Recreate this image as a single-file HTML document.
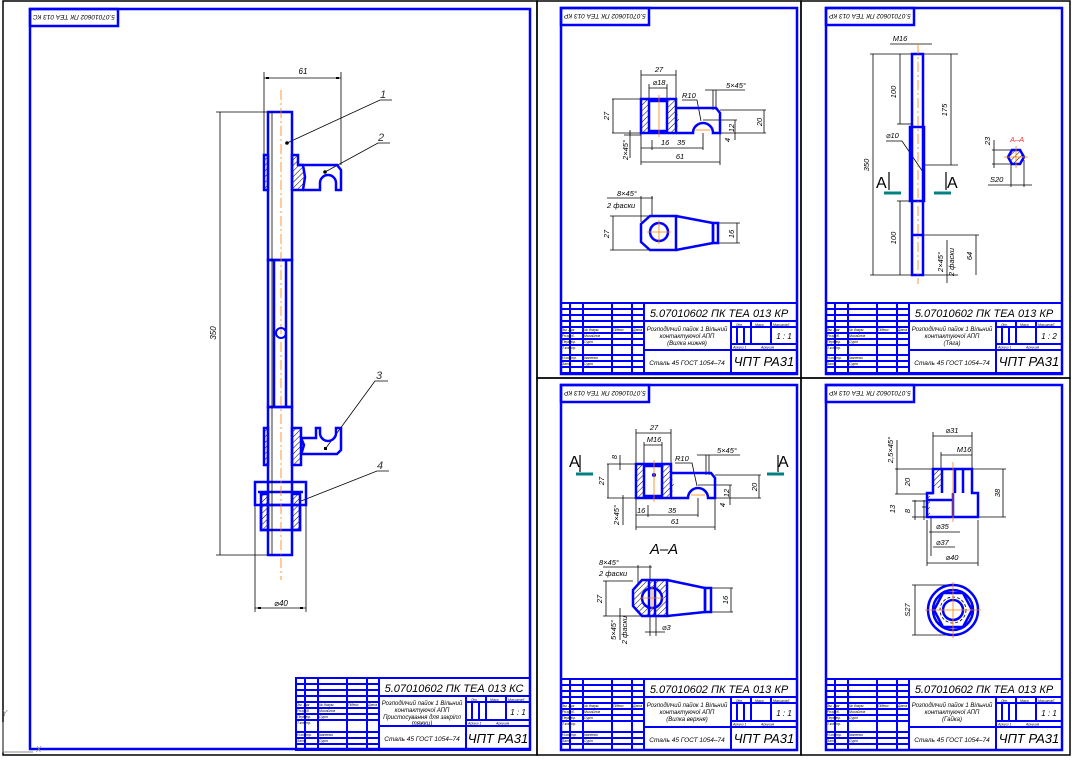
<!DOCTYPE html>
<html><head><meta charset="utf-8"><style>
html,body{margin:0;padding:0;background:#fff;}
svg{display:block;}
text{font-family:"Liberation Sans","DejaVu Sans",sans-serif;font-style:italic;}
</style></head><body>
<svg width="1072" height="760" viewBox="0 0 1072 760" xmlns="http://www.w3.org/2000/svg">
<defs>
<pattern id="h" width="4" height="4" patternUnits="userSpaceOnUse" patternTransform="rotate(45)">
<rect width="4" height="4" fill="#fff"/><line x1="0" y1="0" x2="0" y2="4" stroke="#000" stroke-width="1"/></pattern>
</defs>
<rect width="1072" height="760" fill="#fff"/>
<g fill="none" stroke="#000" stroke-width="1.5">
<rect x="3" y="1" width="534" height="754"/>
<rect x="537" y="1" width="264" height="377"/>
<rect x="801" y="1" width="269" height="377"/>
<rect x="537" y="378" width="264" height="377"/>
<rect x="801" y="378" width="269" height="377"/>
</g>
<g fill="none" stroke="#0000ff" stroke-width="2.5">
<rect x="30" y="9" width="500" height="740"/>
<rect x="561" y="8" width="236" height="366"/>
<rect x="826" y="8" width="236" height="366"/>
<rect x="561" y="385" width="236" height="365"/>
<rect x="826" y="385" width="236" height="365"/>
<rect x="30" y="9" width="88" height="17"/>
<rect x="561" y="8" width="88" height="17"/>
<rect x="826" y="8" width="88" height="17"/>
<rect x="561" y="385" width="88" height="17"/>
<rect x="826" y="385" width="88" height="17"/>
</g>
<g font-size="6.5" fill="#000">
<text transform="translate(74,17.5) rotate(180)" text-anchor="middle" dy="2.5">5.07010602 ПК ТЕА 013 КС</text>
<text transform="translate(605,16.5) rotate(180)" text-anchor="middle" dy="2.5">5.07010602 ПК ТЕА 013 КР</text>
<text transform="translate(870,16.5) rotate(180)" text-anchor="middle" dy="2.5">5.07010602 ПК ТЕА 013 КР</text>
<text transform="translate(605,393.5) rotate(180)" text-anchor="middle" dy="2.5">5.07010602 ПК ТЕА 013 КР</text>
<text transform="translate(870,393.5) rotate(180)" text-anchor="middle" dy="2.5">5.07010602 ПК ТЕА 013 КР</text>
</g>

<g transform="translate(296,678)">
<g stroke="#0000ff" stroke-width="2" fill="none">
<rect x="0" y="0" width="234" height="72"/>
<line x1="9" y1="0" x2="9" y2="72"/><line x1="22" y1="0" x2="22" y2="72"/><line x1="51" y1="0" x2="51" y2="72"/><line x1="71" y1="0" x2="71" y2="72"/><line x1="83" y1="0" x2="83" y2="72"/>
<line x1="0" y1="6" x2="83" y2="6"/><line x1="0" y1="12" x2="83" y2="12"/><line x1="0" y1="18" x2="83" y2="18"/><line x1="0" y1="24" x2="83" y2="24"/><line x1="0" y1="30" x2="83" y2="30"/><line x1="0" y1="36" x2="83" y2="36"/><line x1="0" y1="42" x2="83" y2="42"/><line x1="0" y1="54" x2="83" y2="54"/><line x1="0" y1="60" x2="83" y2="60"/><line x1="0" y1="66" x2="83" y2="66"/>
<line x1="83" y1="18" x2="234" y2="18"/><line x1="83" y1="48" x2="234" y2="48"/>
<line x1="170" y1="18" x2="170" y2="72"/><line x1="170" y1="24" x2="234" y2="24"/><line x1="170" y1="42" x2="234" y2="42"/>
<line x1="190" y1="18" x2="190" y2="42"/><line x1="210" y1="18" x2="210" y2="42"/>
<line x1="176" y1="24" x2="176" y2="42"/><line x1="183" y1="24" x2="183" y2="42"/>
</g>
<g fill="#000">
<text x="158" y="14" font-size="11" text-anchor="middle">5.07010602 ПК ТЕА 013 КС</text>
<text x="126" y="27" font-size="6" text-anchor="middle">Розподілчий пайок 1 Вільний</text>
<text x="126" y="34" font-size="6" text-anchor="middle">контактуючої АПП</text>
<text x="126" y="41" font-size="6" text-anchor="middle">Пристосування для закріпл</text>
<text x="126" y="47" font-size="6" text-anchor="middle">тяжки)</text>
<text x="126" y="63" font-size="6.5" text-anchor="middle">Сталь 45 ГОСТ 1054–74</text>
<text x="202" y="65" font-size="13" text-anchor="middle">ЧПТ РА31</text>
<text x="222" y="37" font-size="8" text-anchor="middle">1 : 1</text>
<g font-size="3.5"><text x="1" y="28">Зм. Арк</text><text x="23" y="28">№ докум.</text><text x="52" y="28">Підпис</text><text x="72" y="28">Дата</text>
<text x="1" y="34">Розроб.</text><text x="23" y="34">Михайлов</text><text x="1" y="40">Перевір.</text><text x="23" y="40">Сурін</text><text x="1" y="46">Т.контр.</text>
<text x="1" y="58">Н.контр.</text><text x="23" y="58">Іваненко</text><text x="1" y="64">Затв.</text><text x="23" y="64">Сурін</text>
<text x="175" y="23">Літ.</text><text x="194" y="23">Маса</text><text x="212" y="23">Масштаб</text><text x="172" y="46.5">Аркуш 1</text><text x="200" y="46.5">Аркушів</text></g>
</g>
</g>

<g transform="translate(561,303)">
<g stroke="#0000ff" stroke-width="2" fill="none">
<rect x="0" y="0" width="236" height="70"/>
<line x1="9" y1="0" x2="9" y2="70"/><line x1="22" y1="0" x2="22" y2="70"/><line x1="51" y1="0" x2="51" y2="70"/><line x1="71" y1="0" x2="71" y2="70"/><line x1="83" y1="0" x2="83" y2="70"/>
<line x1="0" y1="6" x2="83" y2="6"/><line x1="0" y1="12" x2="83" y2="12"/><line x1="0" y1="18" x2="83" y2="18"/><line x1="0" y1="24" x2="83" y2="24"/><line x1="0" y1="30" x2="83" y2="30"/><line x1="0" y1="36" x2="83" y2="36"/><line x1="0" y1="42" x2="83" y2="42"/><line x1="0" y1="52" x2="83" y2="52"/><line x1="0" y1="58" x2="83" y2="58"/><line x1="0" y1="64" x2="83" y2="64"/>
<line x1="83" y1="18" x2="236" y2="18"/><line x1="83" y1="47" x2="236" y2="47"/>
<line x1="170" y1="18" x2="170" y2="70"/><line x1="170" y1="24" x2="236" y2="24"/><line x1="170" y1="41" x2="236" y2="41"/>
<line x1="190" y1="18" x2="190" y2="41"/><line x1="210" y1="18" x2="210" y2="41"/>
<line x1="176" y1="24" x2="176" y2="41"/><line x1="183" y1="24" x2="183" y2="41"/>
</g>
<g fill="#000">
<text x="158" y="14" font-size="11" text-anchor="middle">5.07010602 ПК ТЕА 013 КР</text>
<text x="126" y="28" font-size="6" text-anchor="middle">Розподілчий пайок 1 Вільний</text>
<text x="126" y="35" font-size="6" text-anchor="middle">контактуючої АПП</text>
<text x="126" y="42" font-size="6" text-anchor="middle">(Вилка нижня)</text>
<text x="126" y="62" font-size="6.5" text-anchor="middle">Сталь 45 ГОСТ 1054–74</text>
<text x="203" y="63" font-size="13" text-anchor="middle">ЧПТ РА31</text>
<text x="223" y="36" font-size="8" text-anchor="middle">1 : 1</text>
<g font-size="3.5"><text x="1" y="28">Зм. Арк</text><text x="23" y="28">№ докум.</text><text x="52" y="28">Підпис</text><text x="72" y="28">Дата</text>
<text x="1" y="34">Розроб.</text><text x="23" y="34">Михайлов</text><text x="1" y="40">Перевір.</text><text x="23" y="40">Сурін</text><text x="1" y="46">Т.контр.</text>
<text x="1" y="56">Н.контр.</text><text x="23" y="56">Іваненко</text><text x="1" y="62">Затв.</text><text x="23" y="62">Сурін</text>
<text x="175" y="23">Літ.</text><text x="194" y="23">Маса</text><text x="212" y="23">Масштаб</text><text x="172" y="45.5">Аркуш 1</text><text x="200" y="45.5">Аркушів</text></g>
</g>
</g>

<g transform="translate(826,303)">
<g stroke="#0000ff" stroke-width="2" fill="none">
<rect x="0" y="0" width="236" height="70"/>
<line x1="9" y1="0" x2="9" y2="70"/><line x1="22" y1="0" x2="22" y2="70"/><line x1="51" y1="0" x2="51" y2="70"/><line x1="71" y1="0" x2="71" y2="70"/><line x1="83" y1="0" x2="83" y2="70"/>
<line x1="0" y1="6" x2="83" y2="6"/><line x1="0" y1="12" x2="83" y2="12"/><line x1="0" y1="18" x2="83" y2="18"/><line x1="0" y1="24" x2="83" y2="24"/><line x1="0" y1="30" x2="83" y2="30"/><line x1="0" y1="36" x2="83" y2="36"/><line x1="0" y1="42" x2="83" y2="42"/><line x1="0" y1="52" x2="83" y2="52"/><line x1="0" y1="58" x2="83" y2="58"/><line x1="0" y1="64" x2="83" y2="64"/>
<line x1="83" y1="18" x2="236" y2="18"/><line x1="83" y1="47" x2="236" y2="47"/>
<line x1="170" y1="18" x2="170" y2="70"/><line x1="170" y1="24" x2="236" y2="24"/><line x1="170" y1="41" x2="236" y2="41"/>
<line x1="190" y1="18" x2="190" y2="41"/><line x1="210" y1="18" x2="210" y2="41"/>
<line x1="176" y1="24" x2="176" y2="41"/><line x1="183" y1="24" x2="183" y2="41"/>
</g>
<g fill="#000">
<text x="158" y="14" font-size="11" text-anchor="middle">5.07010602 ПК ТЕА 013 КР</text>
<text x="126" y="28" font-size="6" text-anchor="middle">Розподілчий пайок 1 Вільний</text>
<text x="126" y="35" font-size="6" text-anchor="middle">контактуючої АПП</text>
<text x="126" y="42" font-size="6" text-anchor="middle">(Тяга)</text>
<text x="126" y="62" font-size="6.5" text-anchor="middle">Сталь 45 ГОСТ 1054–74</text>
<text x="203" y="63" font-size="13" text-anchor="middle">ЧПТ РА31</text>
<text x="223" y="36" font-size="8" text-anchor="middle">1 : 2</text>
<g font-size="3.5"><text x="1" y="28">Зм. Арк</text><text x="23" y="28">№ докум.</text><text x="52" y="28">Підпис</text><text x="72" y="28">Дата</text>
<text x="1" y="34">Розроб.</text><text x="23" y="34">Михайлов</text><text x="1" y="40">Перевір.</text><text x="23" y="40">Сурін</text><text x="1" y="46">Т.контр.</text>
<text x="1" y="56">Н.контр.</text><text x="23" y="56">Іваненко</text><text x="1" y="62">Затв.</text><text x="23" y="62">Сурін</text>
<text x="175" y="23">Літ.</text><text x="194" y="23">Маса</text><text x="212" y="23">Масштаб</text><text x="172" y="45.5">Аркуш 1</text><text x="200" y="45.5">Аркушів</text></g>
</g>
</g>

<g transform="translate(561,679)">
<g stroke="#0000ff" stroke-width="2" fill="none">
<rect x="0" y="0" width="236" height="71"/>
<line x1="9" y1="0" x2="9" y2="71"/><line x1="22" y1="0" x2="22" y2="71"/><line x1="51" y1="0" x2="51" y2="71"/><line x1="71" y1="0" x2="71" y2="71"/><line x1="83" y1="0" x2="83" y2="71"/>
<line x1="0" y1="6" x2="83" y2="6"/><line x1="0" y1="12" x2="83" y2="12"/><line x1="0" y1="18" x2="83" y2="18"/><line x1="0" y1="24" x2="83" y2="24"/><line x1="0" y1="30" x2="83" y2="30"/><line x1="0" y1="36" x2="83" y2="36"/><line x1="0" y1="42" x2="83" y2="42"/><line x1="0" y1="53" x2="83" y2="53"/><line x1="0" y1="59" x2="83" y2="59"/><line x1="0" y1="65" x2="83" y2="65"/>
<line x1="83" y1="18" x2="236" y2="18"/><line x1="83" y1="48" x2="236" y2="48"/>
<line x1="170" y1="18" x2="170" y2="71"/><line x1="170" y1="24" x2="236" y2="24"/><line x1="170" y1="42" x2="236" y2="42"/>
<line x1="190" y1="18" x2="190" y2="42"/><line x1="210" y1="18" x2="210" y2="42"/>
<line x1="176" y1="24" x2="176" y2="42"/><line x1="183" y1="24" x2="183" y2="42"/>
</g>
<g fill="#000">
<text x="158" y="14" font-size="11" text-anchor="middle">5.07010602 ПК ТЕА 013 КР</text>
<text x="126" y="28" font-size="6" text-anchor="middle">Розподілчий пайок 1 Вільний</text>
<text x="126" y="35" font-size="6" text-anchor="middle">контактуючої АПП</text>
<text x="126" y="42" font-size="6" text-anchor="middle">(Вилка верхня)</text>
<text x="126" y="63" font-size="6.5" text-anchor="middle">Сталь 45 ГОСТ 1054–74</text>
<text x="203" y="64" font-size="13" text-anchor="middle">ЧПТ РА31</text>
<text x="223" y="37" font-size="8" text-anchor="middle">1 : 1</text>
<g font-size="3.5"><text x="1" y="28">Зм. Арк</text><text x="23" y="28">№ докум.</text><text x="52" y="28">Підпис</text><text x="72" y="28">Дата</text>
<text x="1" y="34">Розроб.</text><text x="23" y="34">Михайлов</text><text x="1" y="40">Перевір.</text><text x="23" y="40">Сурін</text><text x="1" y="46">Т.контр.</text>
<text x="1" y="57">Н.контр.</text><text x="23" y="57">Іваненко</text><text x="1" y="63">Затв.</text><text x="23" y="63">Сурін</text>
<text x="175" y="23">Літ.</text><text x="194" y="23">Маса</text><text x="212" y="23">Масштаб</text><text x="172" y="46.5">Аркуш 1</text><text x="200" y="46.5">Аркушів</text></g>
</g>
</g>

<g transform="translate(826,679)">
<g stroke="#0000ff" stroke-width="2" fill="none">
<rect x="0" y="0" width="236" height="71"/>
<line x1="9" y1="0" x2="9" y2="71"/><line x1="22" y1="0" x2="22" y2="71"/><line x1="51" y1="0" x2="51" y2="71"/><line x1="71" y1="0" x2="71" y2="71"/><line x1="83" y1="0" x2="83" y2="71"/>
<line x1="0" y1="6" x2="83" y2="6"/><line x1="0" y1="12" x2="83" y2="12"/><line x1="0" y1="18" x2="83" y2="18"/><line x1="0" y1="24" x2="83" y2="24"/><line x1="0" y1="30" x2="83" y2="30"/><line x1="0" y1="36" x2="83" y2="36"/><line x1="0" y1="42" x2="83" y2="42"/><line x1="0" y1="53" x2="83" y2="53"/><line x1="0" y1="59" x2="83" y2="59"/><line x1="0" y1="65" x2="83" y2="65"/>
<line x1="83" y1="18" x2="236" y2="18"/><line x1="83" y1="48" x2="236" y2="48"/>
<line x1="170" y1="18" x2="170" y2="71"/><line x1="170" y1="24" x2="236" y2="24"/><line x1="170" y1="42" x2="236" y2="42"/>
<line x1="190" y1="18" x2="190" y2="42"/><line x1="210" y1="18" x2="210" y2="42"/>
<line x1="176" y1="24" x2="176" y2="42"/><line x1="183" y1="24" x2="183" y2="42"/>
</g>
<g fill="#000">
<text x="158" y="14" font-size="11" text-anchor="middle">5.07010602 ПК ТЕА 013 КР</text>
<text x="126" y="28" font-size="6" text-anchor="middle">Розподілчий пайок 1 Вільний</text>
<text x="126" y="35" font-size="6" text-anchor="middle">контактуючої АПП</text>
<text x="126" y="42" font-size="6" text-anchor="middle">(Гайка)</text>
<text x="126" y="63" font-size="6.5" text-anchor="middle">Сталь 45 ГОСТ 1054–74</text>
<text x="203" y="64" font-size="13" text-anchor="middle">ЧПТ РА31</text>
<text x="223" y="37" font-size="8" text-anchor="middle">1 : 1</text>
<g font-size="3.5"><text x="1" y="28">Зм. Арк</text><text x="23" y="28">№ докум.</text><text x="52" y="28">Підпис</text><text x="72" y="28">Дата</text>
<text x="1" y="34">Розроб.</text><text x="23" y="34">Михайлов</text><text x="1" y="40">Перевір.</text><text x="23" y="40">Сурін</text><text x="1" y="46">Т.контр.</text>
<text x="1" y="57">Н.контр.</text><text x="23" y="57">Іваненко</text><text x="1" y="63">Затв.</text><text x="23" y="63">Сурін</text>
<text x="175" y="23">Літ.</text><text x="194" y="23">Маса</text><text x="212" y="23">Масштаб</text><text x="172" y="46.5">Аркуш 1</text><text x="200" y="46.5">Аркушів</text></g>
</g>
</g>

<!-- LEFT SHEET -->
<g>
<g stroke="#000" stroke-width="0.8" fill="none">
<line x1="264" y1="78" x2="341" y2="78"/><line x1="264" y1="72" x2="264" y2="155"/><line x1="341" y1="72" x2="341" y2="165"/>
<line x1="216" y1="112" x2="270" y2="112"/><line x1="216" y1="555" x2="272" y2="555"/><line x1="220" y1="112" x2="220" y2="555"/>
<line x1="255" y1="505" x2="255" y2="612"/><line x1="306" y1="505" x2="306" y2="612"/><line x1="255" y1="608" x2="306" y2="608"/>
<polyline points="287,143 380,100 392,100"/><polyline points="325,172 378,143 390,143"/><polyline points="326,448 375,381 388,381"/><polyline points="296,503 377,471 389,471"/>
</g>
<g fill="#000"><rect x="266" y="77" width="3" height="2"/><rect x="336" y="77" width="3" height="2"/><rect x="258" y="607" width="3" height="2"/><rect x="300" y="607" width="3" height="2"/>
<circle cx="287" cy="143" r="1.8"/><circle cx="325" cy="172" r="1.8"/><rect x="324" y="447" width="3" height="3"/><circle cx="296" cy="503" r="2"/></g>
<g font-size="8" fill="#000"><text x="303" y="74" text-anchor="middle">61</text><text x="281" y="606" text-anchor="middle">⌀40</text>
<text transform="translate(216,333) rotate(-90)" text-anchor="middle">350</text></g>
<g font-size="11" fill="#333"><text x="380" y="98">1</text><text x="378" y="141">2</text><text x="376" y="379">3</text><text x="377" y="469">4</text></g>
<g stroke="#0000ff" stroke-width="2.5" fill="url(#h)">
<rect x="264" y="155" width="4" height="35"/>
<path d="M292,155 H298 V165 H303 L305,177 L303,190 H292 Z"/>
<rect x="264" y="428" width="4" height="37"/>
<path d="M292,428 H301 V438 L304,445 L301,455 V465 H292 Z"/>
<path d="M261,494 H268 V530 H261 Z"/><path d="M292,494 H300 V530 H292 Z"/>
</g>
<g stroke="#0000ff" stroke-width="2.5" fill="none">
<path d="M298,165 H337 L341,170 V190 H336 V183 A8,8 0 0 0 320,183 V190 H303"/>
<path d="M301,438 V454 H337 L341,450 V428 H336 V433 A8,8 0 0 1 320,433 V428 H316 V438 Z"/>
<rect x="268" y="112" width="24" height="148"/>
<rect x="268" y="260" width="24" height="147"/>
<rect x="268" y="407" width="24" height="148"/>
<line x1="274" y1="260" x2="274" y2="407"/><line x1="286" y1="260" x2="286" y2="407"/>
<rect x="255" y="482" width="51" height="23"/>
<line x1="258" y1="492" x2="303" y2="492"/>
<rect x="261" y="505" width="39" height="25"/>
</g>
<line x1="272" y1="112" x2="272" y2="555" stroke="#000" stroke-width="0.8"/>
<line x1="281" y1="90" x2="281" y2="580" stroke="#ff8000" stroke-width="0.8" stroke-dasharray="10,3,2,3"/>
<circle cx="281" cy="333" r="5" fill="none" stroke="#0000ff" stroke-width="2"/>
</g>

<!-- TOP-MIDDLE -->
<g>
<g stroke="#000" stroke-width="0.8" fill="none">
<line x1="641" y1="75" x2="676" y2="75"/><line x1="641" y1="70" x2="641" y2="99"/><line x1="676" y1="70" x2="676" y2="99"/>
<line x1="649" y1="88" x2="667" y2="88"/><line x1="649" y1="84" x2="649" y2="100"/><line x1="667" y1="84" x2="667" y2="100"/>
<line x1="612" y1="99" x2="641" y2="99"/><line x1="612" y1="133" x2="641" y2="133"/><line x1="613" y1="99" x2="613" y2="133"/>
<line x1="641" y1="133" x2="641" y2="165"/><line x1="720" y1="133" x2="720" y2="165"/><line x1="641" y1="162" x2="720" y2="162"/>
<line x1="641" y1="148" x2="703" y2="148"/><line x1="652" y1="140" x2="652" y2="150"/><line x1="703" y1="133" x2="703" y2="150"/>
<line x1="720" y1="110" x2="766" y2="110"/><line x1="720" y1="133" x2="766" y2="133"/><line x1="764" y1="110" x2="764" y2="133"/>
<line x1="703" y1="120" x2="737" y2="120"/><line x1="735" y1="120" x2="735" y2="140"/>
<line x1="705" y1="90" x2="745" y2="90"/><line x1="713" y1="90" x2="713" y2="110"/><line x1="716" y1="90" x2="716" y2="110"/>
<polyline points="682,100 697,100 701,121"/>
<line x1="630" y1="130" x2="630" y2="158"/><line x1="624" y1="135" x2="641" y2="135"/>
</g>
<g font-size="7.5" fill="#000">
<text x="659" y="72" text-anchor="middle">27</text><text x="659" y="85" text-anchor="middle">⌀18</text>
<text transform="translate(609,116) rotate(-90)" text-anchor="middle">27</text>
<text x="661" y="145">16</text><text x="677" y="145">35</text><text x="680" y="159" text-anchor="middle">61</text>
<text transform="translate(762,122) rotate(-90)" text-anchor="middle">20</text><text transform="translate(734,128) rotate(-90)" text-anchor="middle">12</text>
<text transform="translate(730,140) rotate(-90)" text-anchor="middle">4</text>
<text x="726" y="88">5×45°</text><text x="682" y="98">R10</text>
<text transform="translate(628,150) rotate(-90)" text-anchor="middle">2×45°</text>
</g>
<path d="M641,99 H649 V133 H641 Z M667,99 H676 V108 L679,120 L676,133 H667 Z" fill="url(#h)" stroke="none"/>
<g stroke="#0000ff" stroke-width="2.5" fill="none">
<rect x="641" y="99" width="35" height="34"/>
<rect x="649" y="101" width="18" height="30"/>
<path d="M676,108 H716 L720,113 V133 H713 V133 A10,10 0 0 0 693,133 H676"/>
</g>
<line x1="659" y1="95" x2="659" y2="137" stroke="#ff8000" stroke-width="0.8"/>
<line x1="696" y1="130" x2="710" y2="130" stroke="#ff8000" stroke-width="0.8"/>
<g stroke="#000" stroke-width="0.8" fill="none">
<line x1="610" y1="216" x2="652" y2="216"/><line x1="610" y1="250" x2="652" y2="250"/><line x1="613" y1="216" x2="613" y2="250"/>
<line x1="607" y1="198" x2="653" y2="198"/><line x1="641" y1="196" x2="641" y2="222"/><line x1="652" y1="196" x2="652" y2="216"/>
<line x1="718" y1="223" x2="740" y2="223"/><line x1="718" y1="243" x2="740" y2="243"/><line x1="737" y1="223" x2="737" y2="243"/>
</g>
<g font-size="7.5" fill="#000"><text x="617" y="196">8×45°</text><text x="607" y="208">2 фаски</text>
<text transform="translate(609,234) rotate(-90)" text-anchor="middle">27</text><text transform="translate(734,234) rotate(-90)" text-anchor="middle">16</text></g>
<g stroke="#0000ff" stroke-width="2.5" fill="none">
<path d="M650,216 H676 V250 H650 L641,242 V224 Z"/>
<circle cx="659" cy="232" r="9"/>
<path d="M676,216 L713,223 V243 L676,250"/>
<rect x="713" y="223" width="5" height="20"/>
</g>
<g stroke="#ff8000" stroke-width="0.8"><line x1="647" y1="232" x2="671" y2="232"/><line x1="659" y1="220" x2="659" y2="244"/></g>
</g>

<!-- BOTTOM-MIDDLE -->
<g transform="translate(-5,365)">
<g stroke="#000" stroke-width="0.8" fill="none">
<line x1="641" y1="68" x2="676" y2="68"/><line x1="641" y1="64" x2="641" y2="99"/><line x1="676" y1="64" x2="676" y2="99"/>
<line x1="649" y1="80" x2="667" y2="80"/><line x1="649" y1="77" x2="649" y2="100"/><line x1="667" y1="77" x2="667" y2="100"/>
<line x1="612" y1="99" x2="641" y2="99"/><line x1="612" y1="133" x2="641" y2="133"/><line x1="613" y1="99" x2="613" y2="133"/>
<line x1="625" y1="90" x2="625" y2="105"/>
<line x1="641" y1="133" x2="641" y2="165"/><line x1="720" y1="133" x2="720" y2="165"/><line x1="641" y1="162" x2="720" y2="162"/>
<line x1="641" y1="150" x2="703" y2="150"/><line x1="653" y1="140" x2="653" y2="152"/><line x1="703" y1="133" x2="703" y2="152"/>
<line x1="720" y1="110" x2="766" y2="110"/><line x1="720" y1="133" x2="766" y2="133"/><line x1="764" y1="110" x2="764" y2="133"/>
<line x1="703" y1="120" x2="737" y2="120"/><line x1="735" y1="120" x2="735" y2="140"/>
<line x1="702" y1="90" x2="745" y2="90"/><line x1="711" y1="90" x2="711" y2="110"/><line x1="714" y1="90" x2="714" y2="110"/>
<polyline points="680,98 697,98 702,121"/>
<line x1="628" y1="130" x2="628" y2="160"/>
</g>
<g font-size="7.5" fill="#000">
<text x="659" y="65" text-anchor="middle">27</text><text x="659" y="77" text-anchor="middle">M16</text>
<text transform="translate(609,116) rotate(-90)" text-anchor="middle">27</text><text transform="translate(622,92) rotate(-90)" text-anchor="middle">8</text>
<text x="642" y="148">16</text><text x="673" y="148">35</text><text x="680" y="159" text-anchor="middle">61</text>
<text transform="translate(762,122) rotate(-90)" text-anchor="middle">20</text><text transform="translate(734,128) rotate(-90)" text-anchor="middle">12</text>
<text transform="translate(730,140) rotate(-90)" text-anchor="middle">4</text>
<text x="722" y="88">5×45°</text><text x="680" y="96">R10</text>
<text transform="translate(624,150) rotate(-90)" text-anchor="middle">2×45°</text>
</g>
<path d="M641,99 H649 V133 H641 Z M667,99 H676 V108 L679,120 L676,133 H667 Z" fill="url(#h)" stroke="none"/>
<g stroke="#0000ff" stroke-width="2.5" fill="none">
<rect x="641" y="99" width="35" height="34"/>
<rect x="649" y="101" width="18" height="30"/>
<path d="M676,108 H716 L720,113 V133 H713 V133 A10,10 0 0 0 693,133 H676"/>
</g>
<circle cx="659" cy="110" r="2" fill="#0000ff"/>
<line x1="659" y1="95" x2="659" y2="137" stroke="#ff8000" stroke-width="0.8"/>
<line x1="696" y1="130" x2="710" y2="130" stroke="#ff8000" stroke-width="0.8"/>
</g>
<g fill="#000" font-size="16">
<text x="569" y="467" style="font-style:normal">А</text><text x="778" y="467" style="font-style:normal">А</text>
<text x="876" y="188" style="font-style:normal">А</text><text x="947" y="188" style="font-style:normal">А</text>
</g>
<g stroke="#000" stroke-width="1.2"><line x1="580" y1="455" x2="580" y2="472"/><line x1="778" y1="455" x2="778" y2="472"/>
<line x1="889" y1="172" x2="889" y2="190"/><line x1="946" y1="172" x2="946" y2="190"/></g>
<g stroke="#008080" stroke-width="3"><line x1="576" y1="474" x2="593" y2="474"/><line x1="767" y1="474" x2="784" y2="474"/>
<line x1="884" y1="193" x2="901" y2="193"/><line x1="934" y1="193" x2="951" y2="193"/></g>
<text x="664" y="554" font-size="15" text-anchor="middle" fill="#000">А–А</text>
<g stroke="#000" stroke-width="0.8" fill="none">
<line x1="603" y1="567" x2="652" y2="567"/><line x1="638" y1="565" x2="638" y2="585"/><line x1="650" y1="565" x2="650" y2="582"/>
<line x1="603" y1="581" x2="633" y2="581"/><line x1="603" y1="616" x2="650" y2="616"/><line x1="606" y1="581" x2="606" y2="616"/>
<line x1="705" y1="588" x2="733" y2="588"/><line x1="705" y1="612" x2="733" y2="612"/><line x1="731" y1="588" x2="731" y2="612"/>
<line x1="620" y1="608" x2="620" y2="640"/><line x1="650" y1="616" x2="650" y2="636"/><line x1="656" y1="616" x2="656" y2="636"/><line x1="645" y1="632" x2="665" y2="632"/>
</g>
<g font-size="7.5" fill="#000"><text x="599" y="565">8×45°</text><text x="599" y="576">2 фаски</text>
<text transform="translate(602,599) rotate(-90)" text-anchor="middle">27</text><text transform="translate(728,600) rotate(-90)" text-anchor="middle">16</text>
<text x="662" y="630">⌀3</text><text transform="translate(616,630) rotate(-90)" text-anchor="middle">5×45°</text><text transform="translate(627,630) rotate(-90)" text-anchor="middle">2 фаски</text></g>
<path d="M642,580 H667 V616 H642 L633,606 V590 Z" fill="url(#h)" stroke="none"/>
<circle cx="652" cy="598" r="10" fill="#fff" stroke="#0000ff" stroke-width="2.5"/>
<g stroke="#0000ff" stroke-width="2.5" fill="none">
<path d="M642,580 H667 V616 H642 L633,606 V590 Z"/>
<line x1="649" y1="580" x2="649" y2="616"/><line x1="655" y1="580" x2="655" y2="616"/>
<path d="M667,580 L705,588 V612 L667,616"/>
<rect x="705" y="588" width="6" height="24"/>
</g>
<g stroke="#ff8000" stroke-width="0.8"><line x1="640" y1="598" x2="664" y2="598"/><line x1="652" y1="586" x2="652" y2="610"/></g>

<!-- TOP-RIGHT -->
<g stroke="#000" stroke-width="0.8" fill="none">
<line x1="890" y1="44" x2="932" y2="44"/>
<line x1="870" y1="54" x2="958" y2="54"/><line x1="870" y1="275" x2="958" y2="275"/>
<line x1="873" y1="54" x2="873" y2="275"/>
<line x1="897" y1="124" x2="912" y2="124"/><line x1="900" y1="54" x2="900" y2="124"/>
<line x1="924" y1="165" x2="958" y2="165"/><line x1="951" y1="54" x2="951" y2="165"/>
<line x1="897" y1="201" x2="912" y2="201"/><line x1="900" y1="201" x2="900" y2="275"/>
<line x1="923" y1="235" x2="979" y2="235"/><line x1="976" y1="235" x2="976" y2="275"/>
<line x1="947" y1="240" x2="947" y2="283"/>
<polyline points="886,141 902,141 923,172"/>
<line x1="992" y1="150" x2="1012" y2="150"/><line x1="992" y1="164" x2="1012" y2="164"/><line x1="994" y1="140" x2="994" y2="168"/>
<line x1="988" y1="185" x2="1032" y2="185"/><line x1="1011" y1="160" x2="1011" y2="187"/><line x1="1024" y1="160" x2="1024" y2="187"/>
</g>
<g font-size="7.5" fill="#000">
<text x="900" y="41" text-anchor="middle">M16</text>
<text transform="translate(869,165) rotate(-90)" text-anchor="middle">350</text>
<text transform="translate(896,92) rotate(-90)" text-anchor="middle">100</text>
<text transform="translate(947,110) rotate(-90)" text-anchor="middle">175</text>
<text transform="translate(896,238) rotate(-90)" text-anchor="middle">100</text>
<text transform="translate(972,256) rotate(-90)" text-anchor="middle">64</text>
<text transform="translate(943,262) rotate(-90)" text-anchor="middle">2×45°</text>
<text transform="translate(954,262) rotate(-90)" text-anchor="middle">2 фаски</text>
<text x="886" y="138">⌀10</text>
<text transform="translate(990,141) rotate(-90)" text-anchor="middle">23</text>
<text x="990" y="182">S20</text>
<text x="1010" y="142" fill="#ff3030">А–А</text>
</g>
<g stroke="#0000ff" stroke-width="2.5" fill="none">
<rect x="912" y="54" width="11" height="221"/>
<rect x="910" y="127" width="14" height="74"/>
<line x1="912" y1="235" x2="923" y2="235"/>
</g>
<line x1="918" y1="44" x2="918" y2="284" stroke="#ff8000" stroke-width="0.8" stroke-dasharray="10,3,2,3"/>
<polygon points="1012,150 1020,150 1024,157 1020,164 1012,164 1008,157" fill="url(#h)" stroke="#0000ff" stroke-width="2.5"/>
<g stroke="#ff8000" stroke-width="0.8"><line x1="1004" y1="157" x2="1028" y2="157"/><line x1="1016" y1="146" x2="1016" y2="168"/></g>

<!-- BOTTOM-RIGHT -->
<g stroke="#000" stroke-width="0.8" fill="none">
<line x1="933" y1="436" x2="972" y2="436"/><line x1="933" y1="432" x2="933" y2="469"/><line x1="972" y1="432" x2="972" y2="469"/>
<line x1="941" y1="455" x2="972" y2="455"/><line x1="941" y1="452" x2="941" y2="469"/>
<line x1="895" y1="469" x2="933" y2="469"/><line x1="895" y1="494" x2="933" y2="494"/><line x1="897" y1="469" x2="897" y2="494"/>
<line x1="897" y1="440" x2="897" y2="470"/>
<line x1="972" y1="469" x2="1006" y2="469"/><line x1="978" y1="517" x2="1006" y2="517"/><line x1="1003" y1="469" x2="1003" y2="517"/>
<line x1="912" y1="501" x2="928" y2="501"/><line x1="912" y1="517" x2="928" y2="517"/><line x1="915" y1="500" x2="915" y2="520"/>
<line x1="922" y1="507" x2="928" y2="507"/><line x1="924" y1="500" x2="924" y2="520"/>
<line x1="929" y1="532" x2="960" y2="532"/><line x1="931" y1="517" x2="931" y2="556"/>
<line x1="933" y1="547" x2="955" y2="547"/>
<line x1="927" y1="563" x2="978" y2="563"/><line x1="927" y1="520" x2="927" y2="566"/><line x1="978" y1="520" x2="978" y2="566"/>
<line x1="912" y1="585" x2="950" y2="585"/><line x1="912" y1="635" x2="950" y2="635"/><line x1="915" y1="585" x2="915" y2="635"/>
</g>
<g font-size="7.5" fill="#000">
<text x="952" y="433" text-anchor="middle">⌀31</text><text x="964" y="452" text-anchor="middle">M16</text>
<text transform="translate(893,450) rotate(-90)" text-anchor="middle">2,5×45°</text>
<text transform="translate(910,482) rotate(-90)" text-anchor="middle">20</text>
<text transform="translate(1000,493) rotate(-90)" text-anchor="middle">38</text>
<text transform="translate(895,509) rotate(-90)" text-anchor="middle">13</text>
<text transform="translate(910,511) rotate(-90)" text-anchor="middle">8</text>
<text x="936" y="529">⌀35</text><text x="936" y="545">⌀37</text><text x="952" y="560" text-anchor="middle">⌀40</text>
<text transform="translate(910,610) rotate(-90)" text-anchor="middle">S27</text>
</g>
<path d="M933,469 H942 V488 H933 Z M927,496 H930 V517 H927 Z" fill="url(#h)" stroke="none"/>
<g stroke="#0000ff" stroke-width="2.5" fill="none">
<path d="M933,469 H972 V493 H978 V517 H927 V493 H933 Z"/>
<line x1="942" y1="469" x2="942" y2="493"/><line x1="963" y1="469" x2="963" y2="493"/>
<line x1="955" y1="469" x2="955" y2="493"/>
<line x1="928" y1="500" x2="953" y2="500"/>
<line x1="953" y1="493" x2="953" y2="517"/>
<circle cx="953" cy="610" r="25"/><circle cx="953" cy="610" r="20"/>
<polygon points="943,593 963,593 972,610 963,627 943,627 934,610"/>
<circle cx="953" cy="610" r="10"/>
</g>
<circle cx="953" cy="610" r="13" fill="none" stroke="#000" stroke-width="0.8" stroke-dasharray="3,2"/>
<g stroke="#ff8000" stroke-width="0.8"><line x1="953" y1="462" x2="953" y2="522"/><line x1="925" y1="610" x2="981" y2="610"/><line x1="953" y1="582" x2="953" y2="638"/></g>

<g stroke="#888" stroke-width="1" fill="none"><polyline points="3,722 3,752 33,752"/></g>
<text x="2" y="716" font-size="8" fill="#888">Y</text><text x="36" y="752" font-size="8" fill="#888">X</text>
</svg>
</body></html>
